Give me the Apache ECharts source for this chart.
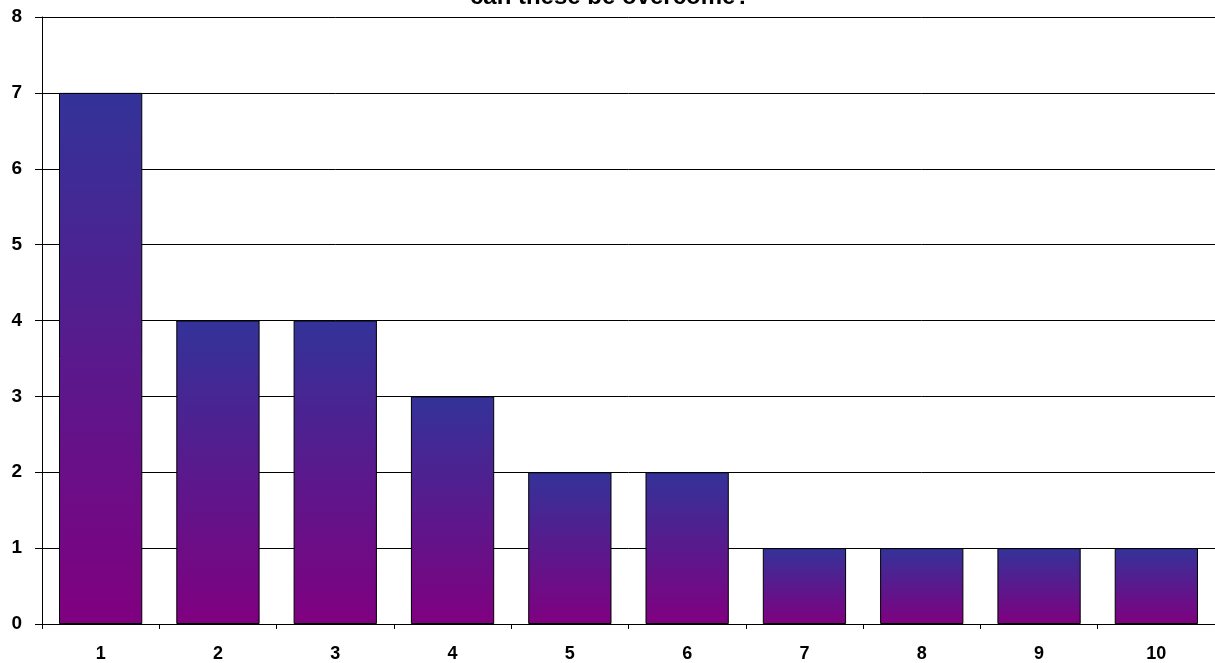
<!DOCTYPE html>
<html>
<head>
<meta charset="utf-8">
<script src="https://cdn.jsdelivr.net/npm/echarts@6/dist/echarts.min.js"></script>
<style>
html,body{margin:0;padding:0;background:#fff;}
#chart{width:1215px;height:663px;}
</style>
</head>
<body>
<div id="chart"></div>
<script>
const titleText = 'can these be overcome?';
const categories = ['1','2','3','4','5','6','7','8','9','10'];
const values = [7,4,4,3,2,2,1,1,1,1];
const yTicks = [0,1,2,3,4,5,6,7,8];

const chart = echarts.init(document.getElementById('chart'), null, {renderer:'canvas'});
const font = 'Arial, "Liberation Sans", sans-serif';
chart.setOption({
  animation: false,
  backgroundColor: '#fff',
  graphic: [{
    type: 'text',
    x: 610, y: 9,
    style: {
      text: titleText,
      fill: '#000',
      font: 'bold 24px ' + font,
      textAlign: 'center',
      verticalAlign: 'bottom'
    }
  }],
  grid: {left: 42, right: 0, top: 17, bottom: 39, containLabel: false},
  xAxis: {
    type: 'category',
    data: categories,
    boundaryGap: true,
    axisLine: {show: true, lineStyle: {color: '#000', width: 1}},
    axisTick: {show: true, length: 5, alignWithLabel: false, lineStyle: {color: '#000'}},
    axisLabel: {margin: 21, color: '#000', fontWeight: 'bold', fontSize: 18, fontFamily: font},
    splitLine: {show: false}
  },
  yAxis: {
    type: 'value',
    min: yTicks[0],
    max: yTicks[yTicks.length-1],
    interval: 1,
    axisLine: {show: true, lineStyle: {color: '#000', width: 1}},
    axisTick: {show: true, length: 7, lineStyle: {color: '#000'}},
    axisLabel: {margin: 20, color: '#000', fontWeight: 'bold', fontSize: 19, fontFamily: font},
    splitLine: {show: true, lineStyle: {color: '#000', width: 1}}
  },
  series: [{
    type: 'bar',
    data: values,
    barCategoryGap: '29%',
    itemStyle: {
      color: new echarts.graphic.LinearGradient(0,0,0,1,[
        {offset: 0, color: '#333399'},
        {offset: 1, color: '#800080'}
      ]),
      borderColor: '#000',
      borderWidth: 1
    }
  }]
});
</script>
</body>
</html>
